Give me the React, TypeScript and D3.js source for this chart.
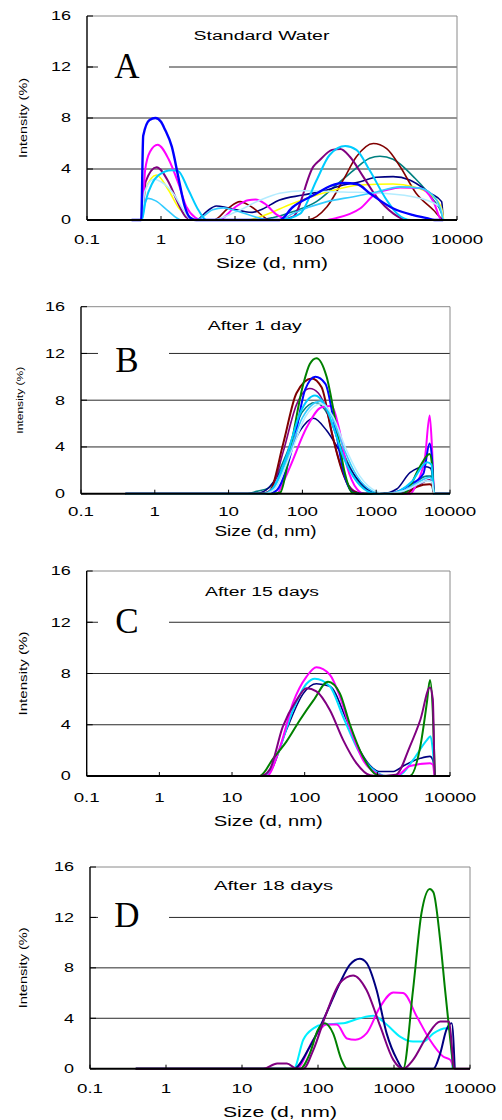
import * as d3 from 'd3'

type Pt = [number, number]

// size (nm) vs intensity (%)
const xTickValues = [0.1, 1, 10, 100, 1000, 10000]
const xTickLabels = ['0.1', '1', '10', '100', '1000', '10000']
const yTickValues = [0, 4, 8, 12, 16]
const yTickLabels = ['0', '4', '8', '12', '16']

// A - standard water
const aTeal: Pt[] = [[0.4, 0], [20, 0], [33, 0.2], [60, 0.65], [126, 1.44], [235, 2.75], [400, 3.9], [660, 4.84], [910, 5.0], [1370, 4.76], [2570, 3.4], [4800, 1.57], [6200, 0.5], [6500, 0]]
const aNavy: Pt[] = [[0.4, 0], [3, 0], [4.2, 0.7], [5.6, 1.1], [8, 0.95], [17, 0.6], [22, 0.78], [40, 1.57], [83, 1.96], [175, 2.35], [290, 2.75], [490, 3.0], [815, 3.35], [1370, 3.4], [2300, 3.14], [4350, 2.1], [6200, 1.44], [6500, 0]]
const aMaroon: Pt[] = [[0.4, 0], [5.2, 0], [8, 0.9], [11.7, 1.44], [17, 1.0], [30, 0], [94, 0], [175, 1.04], [290, 3.14], [437, 4.96], [740, 6.0], [1120, 5.6], [1700, 4.2], [2800, 2.1], [4800, 0.78], [6200, 0.1], [6500, 0]]
const aYellow: Pt[] = [[0.4, 0], [0.55, 0], [0.61, 2.35], [0.87, 3.53], [1.26, 2.35], [1.71, 1.0], [2.3, 0.26], [3, 0], [15, 0], [22, 0.26], [60, 1.3], [175, 2.2], [490, 2.75], [1370, 2.82], [2570, 2.6], [4800, 1.83], [6200, 0.9], [6600, 0]]
const aPurple: Pt[] = [[0.4, 0], [0.55, 0], [0.62, 3.0], [0.87, 4.13], [1.26, 3.0], [1.71, 1.3], [2.2, 0.2], [2.8, 0], [40, 0], [61, 0.26], [115, 4.2], [140, 4.7], [205, 5.5], [265, 5.57], [357, 4.96], [540, 3.4], [815, 1.83], [1370, 0.52], [2100, 0], [6500, 0]]
const aMagenta: Pt[] = [[0.4, 0], [0.55, 0], [0.61, 3.9], [0.71, 5.35], [0.9, 5.9], [1.26, 4.8], [1.71, 2.9], [2.2, 1.04], [2.9, 0.2], [3.5, 0], [6, 0], [10, 1.0], [15, 1.55], [19, 1.6], [25, 1.3], [37, 0.4], [60, 0], [165, 0], [235, 0.15], [490, 0.9], [815, 2.1], [1120, 2.35], [1700, 2.55], [3160, 2.5], [4800, 1.45], [6200, 0], [6500, 0]]
const aLightCyan: Pt[] = [[0.4, 0], [0.55, 0], [0.6, 2.2], [0.8, 3.2], [1.0, 3.0], [1.5, 2.0], [2.0, 0.8], [2.6, 0], [5, 0], [10, 0.6], [22, 1.57], [40, 2.1], [83, 2.3], [290, 2.2], [1000, 2.1], [3160, 1.7], [6000, 1.0], [6500, 0]]
const aCyanLow: Pt[] = [[0.4, 0], [0.55, 0], [0.6, 1.2], [0.67, 1.7], [0.85, 1.5], [1.2, 0.8], [1.9, 0], [3, 0], [5, 0.8], [7, 0.95], [10, 0.75], [20, 0.2], [30, 0], [40, 0], [60, 0.5], [175, 1.44], [400, 1.83], [815, 2.2], [1700, 2.6], [3160, 2.5], [5300, 1.57], [6200, 0.5], [6500, 0]]
const aCyan: Pt[] = [[0.4, 0], [0.55, 0], [0.62, 1.5], [0.75, 2.8], [0.92, 3.5], [1.4, 3.9], [1.7, 3.85], [2.35, 2.35], [3.2, 0.78], [4.1, 0], [40, 0], [76, 0.5], [126, 3.1], [190, 5.1], [309, 5.8], [437, 5.5], [660, 3.9], [1120, 1.57], [1540, 0.52], [2400, 0], [10000, 0]]
const aBlue: Pt[] = [[0.4, 0], [0.54, 0], [0.575, 6.6], [0.7, 7.85], [0.84, 8.0], [1.0, 7.7], [1.13, 7.1], [1.4, 5.75], [1.71, 3.4], [2.1, 1.04], [2.46, 0.2], [3, 0], [40, 0], [60, 1.0], [120, 2.0], [200, 2.7], [290, 2.9], [450, 2.8], [660, 2.1], [1380, 0.9], [2500, 0.4], [3900, 0.15], [5000, 0], [6500, 0]]

// B - after 1 day
const bTeal: Pt[] = [[0.4, 0], [18, 0], [24, 0.2], [35, 0.5], [60, 3.3], [100, 7.0], [150, 7.8], [220, 6.8], [330, 4.0], [550, 1.2], [900, 0.1], [1200, 0], [2500, 0.3], [4800, 1.5], [5600, 1.5], [6100, 0], [10000, 0]]
const bNavy: Pt[] = [[0.4, 0], [22, 0], [30, 0.2], [55, 2.3], [93, 5.4], [141, 6.45], [213, 5.4], [324, 3.6], [550, 1.3], [910, 0.1], [1200, 0], [1900, 0.4], [2870, 1.8], [4600, 2.3], [5400, 2.2], [5800, 1.5], [6100, 0], [10000, 0]]
const bPurple: Pt[] = [[0.4, 0], [28, 0], [38, 0.4], [55, 3.6], [83, 7.6], [126, 9.0], [165, 8.6], [213, 7.1], [290, 3.6], [400, 1.0], [560, 0.1], [700, 0], [2000, 0], [3500, 0.6], [5300, 1.2], [5700, 1.0], [6100, 0], [10000, 0]]
const bMaroon: Pt[] = [[0.4, 0], [28, 0], [36, 0.2], [55, 4.3], [83, 8.6], [133, 9.86], [182, 9.1], [250, 5.2], [357, 1.7], [485, 0.2], [700, 0], [2500, 0], [3550, 0.6], [5300, 0.8], [5700, 0.7], [6100, 0], [10000, 0]]
const bMagenta: Pt[] = [[0.4, 0], [45, 0], [55, 1.0], [68, 2.3], [115, 5.7], [182, 7.4], [250, 7.5], [310, 5.7], [400, 2.4], [550, 0.4], [700, 0], [2900, 0], [3500, 0.8], [4600, 3.2], [5300, 6.7], [5700, 4.0], [6100, 0], [10000, 0]]
const bBlue: Pt[] = [[0.4, 0], [35, 0], [45, 0.3], [60, 2.0], [80, 5.0], [109, 8.9], [150, 10.0], [205, 9.4], [276, 5.7], [378, 1.4], [485, 0.1], [600, 0], [1500, 0], [2870, 0.75], [4350, 1.7], [5300, 4.3], [5700, 3.0], [6100, 0], [10000, 0]]
const bGreen: Pt[] = [[0.4, 0], [40, 0], [50, 0.1], [68, 3.7], [103, 9.4], [126, 11.1], [155, 11.6], [213, 10.0], [290, 5.7], [378, 1.7], [470, 0.1], [600, 0], [2300, 0], [2600, 0.2], [3900, 2.3], [5300, 3.4], [5700, 2.5], [6100, 0], [10000, 0]]
const bSky: Pt[] = [[0.4, 0], [30, 0], [40, 0.4], [65, 3.3], [100, 6.5], [175, 7.9], [250, 6.6], [357, 4.0], [550, 1.5], [900, 0.2], [1200, 0], [2000, 0.1], [3500, 0.9], [5300, 1.4], [5700, 1.2], [6100, 0], [10000, 0]]
const bCyan: Pt[] = [[0.4, 0], [30, 0], [40, 0.5], [61, 3.2], [93, 6.9], [148, 8.4], [200, 7.6], [260, 5.8], [357, 3.2], [550, 1.0], [830, 0.1], [1000, 0], [1500, 0], [3000, 1.0], [4900, 2.7], [5600, 2.5], [6100, 0], [10000, 0]]
const bLightCyan: Pt[] = [[0.4, 0], [30, 0], [42, 0.4], [70, 3.5], [110, 6.6], [180, 7.7], [260, 6.6], [380, 4.0], [600, 1.5], [1000, 0.2], [1300, 0], [2500, 0.3], [5000, 1.1], [5700, 1.0], [6100, 0], [10000, 0]]

// C - after 15 days
const cNavy: Pt[] = [[0.4, 0], [25, 0], [33, 0.3], [56, 3.6], [96, 6.45], [145, 7.2], [222, 7.0], [378, 4.37], [575, 2.0], [870, 0.6], [1050, 0.35], [1660, 0.35], [2300, 0.8], [3900, 1.38], [5300, 1.53], [5800, 1.25], [6200, 0]]
const cCyan: Pt[] = [[0.4, 0], [28, 0], [41, 1.5], [69, 5.15], [106, 7.2], [138, 7.6], [222, 7.0], [339, 4.6], [575, 1.77], [970, 0.3], [1300, 0], [2050, 0.1], [3100, 1.25], [4800, 2.8], [5400, 3.1], [5800, 2.0], [6200, 0]]
const cMagenta: Pt[] = [[0.4, 0], [30, 0], [46, 2.3], [69, 5.7], [106, 7.75], [145, 8.48], [222, 7.9], [305, 6.2], [415, 3.85], [635, 1.25], [970, 0.2], [1200, 0], [1800, 0], [2800, 0.78], [5300, 1.0], [5800, 0.9], [6100, 0]]
const cGreen: Pt[] = [[0.4, 0], [24, 0], [37, 1.38], [56, 2.68], [86, 4.37], [132, 5.9], [210, 7.36], [305, 6.45], [415, 4.1], [635, 1.5], [970, 0.1], [1200, 0], [2800, 0], [3900, 2.3], [4800, 5.7], [5300, 7.5], [5800, 5.0], [6200, 0]]
const cPurple: Pt[] = [[0.4, 0], [25, 0], [33, 0.5], [50, 3.85], [77, 5.9], [106, 6.85], [145, 6.6], [222, 5.15], [339, 2.8], [515, 1.0], [795, 0.05], [1000, 0], [1800, 0.1], [2800, 2.3], [3900, 4.37], [5300, 6.9], [5800, 6.0], [6200, 0], [10000, 0]]

// D - after 18 days
const dCyan: Pt[] = [[0.4, 0], [48, 0], [64, 2.3], [87, 3.2], [117, 3.5], [215, 3.6], [355, 4.0], [535, 4.2], [800, 3.5], [1200, 2.55], [1780, 2.15], [2450, 2.15], [3300, 2.8], [4900, 3.2], [5400, 3.1], [5900, 0]]
const dMagenta: Pt[] = [[0.4, 0], [52, 0], [87, 2.3], [129, 3.5], [177, 3.5], [240, 2.4], [310, 2.3], [435, 2.8], [660, 4.93], [980, 6.04], [1320, 6.0], [2000, 4.13], [2960, 2.3], [4470, 0.95], [5500, 0.7], [6100, 0]]
const dNavy: Pt[] = [[0.4, 0], [48, 0], [78, 1.75], [129, 4.4], [194, 6.8], [263, 8.25], [355, 8.72], [435, 8.4], [590, 6.25], [800, 2.8], [1100, 0.7], [1320, 0], [3300, 0], [4050, 1.2], [4900, 3.1], [5750, 3.6], [6300, 0]]
const dGreen: Pt[] = [[0.4, 0], [58, 0], [78, 1.2], [100, 3.1], [123, 3.6], [158, 2.8], [204, 0.7], [240, 0], [1320, 0], [1780, 6.25], [2300, 12.35], [2960, 14.26], [3300, 14.0], [4050, 10.2], [4700, 6.25], [5500, 2.3], [6050, 0]]
const dPurple: Pt[] = [[0.4, 0], [19, 0], [29, 0.42], [39, 0.42], [52, 0], [64, 0], [87, 1.5], [129, 4.4], [194, 6.8], [290, 7.4], [435, 6.25], [660, 3.35], [980, 0.7], [1320, 0], [1780, 0.7], [2700, 2.55], [4050, 3.74], [5250, 3.74], [6300, 0], [10000, 0]]

const NAVY = '#000080', MAROON = '#800000', TEAL = '#008080', PURPLE = '#800080'
const MAGENTA = '#FF00FF', YELLOW = '#FFFF00', BLUE = '#0000FF', GREEN = '#008000'
const CYAN = '#00CCFF', SKY = '#33CCFF', LIGHTCYAN = '#B4ECFF'

type Series = { pts: Pt[]; color: string; w?: number }
type Panel = {
  letter: string; title: string
  l: number; r: number; t: number; b: number
  titleX: number; titleY: number; titleW: number
  letterY: number
  xTitleY: number; xTitleW: number; tickDy: number
  yTitleX: number; yTitleLen: number; yTitleFs: number
  series: Series[]
}

const panels: Panel[] = [
  {
    letter: 'A', title: 'Standard Water', l: 87, r: 457, t: 16, b: 220,
    titleX: 261.5, titleY: 39.5, titleW: 136, letterY: 78,
    xTitleY: 267.5, xTitleW: 112, tickDy: 24, yTitleX: 23, yTitleLen: 80, yTitleFs: 11,
    series: [
      { pts: aTeal, color: TEAL }, { pts: aNavy, color: NAVY }, { pts: aMaroon, color: MAROON },
      { pts: aYellow, color: YELLOW }, { pts: aPurple, color: PURPLE, w: 2 }, { pts: aMagenta, color: MAGENTA, w: 2 },
      { pts: aLightCyan, color: LIGHTCYAN }, { pts: aCyanLow, color: SKY }, { pts: aCyan, color: CYAN, w: 2 },
      { pts: aBlue, color: BLUE, w: 2.4 },
    ],
  },
  {
    letter: 'B', title: 'After 1 day', l: 81, r: 450, t: 306.7, b: 493.7,
    titleX: 254.7, titleY: 330, titleW: 94, letterY: 371.7,
    xTitleY: 536, xTitleW: 102, tickDy: 22.5, yTitleX: 20, yTitleLen: 67, yTitleFs: 9.5,
    series: [
      { pts: bTeal, color: TEAL }, { pts: bNavy, color: NAVY }, { pts: bPurple, color: PURPLE },
      { pts: bMaroon, color: MAROON, w: 2 }, { pts: bMagenta, color: MAGENTA, w: 2 }, { pts: bBlue, color: BLUE, w: 2 },
      { pts: bGreen, color: GREEN, w: 2 }, { pts: bSky, color: SKY }, { pts: bCyan, color: CYAN, w: 2 },
      { pts: bLightCyan, color: LIGHTCYAN },
    ],
  },
  {
    letter: 'C', title: 'After 15 days', l: 86.7, r: 450, t: 571, b: 776,
    titleX: 262, titleY: 595.7, titleW: 114, letterY: 633,
    xTitleY: 825.5, xTitleW: 109, tickDy: 25.5, yTitleX: 23, yTitleLen: 84, yTitleFs: 11,
    series: [
      { pts: cNavy, color: NAVY }, { pts: cCyan, color: '#00E0FF', w: 2 }, { pts: cMagenta, color: MAGENTA, w: 2 },
      { pts: cGreen, color: GREEN, w: 2 }, { pts: cPurple, color: PURPLE, w: 2 },
    ],
  },
  {
    letter: 'D', title: 'After 18 days', l: 90, r: 470, t: 867, b: 1068.7,
    titleX: 273.5, titleY: 890, titleW: 119, letterY: 927,
    xTitleY: 1116.5, xTitleW: 114, tickDy: 24.5, yTitleX: 23, yTitleLen: 81, yTitleFs: 11,
    series: [
      { pts: dCyan, color: '#00F0FF', w: 2 }, { pts: dMagenta, color: MAGENTA, w: 2 }, { pts: dNavy, color: NAVY, w: 2 },
      { pts: dGreen, color: GREEN, w: 2 }, { pts: dPurple, color: PURPLE, w: 2 },
    ],
  },
]

const SANS = 'Liberation Sans, Arial, sans-serif'

function DlsPanel({ p }: { p: Panel }) {
  const x = d3.scaleLog().domain([0.1, 10000]).range([p.l, p.r])
  const y = d3.scaleLinear().domain([0, 16]).range([p.b, p.t])
  const line = d3.line<Pt>()
    .x(d => x(d[0]))
    .y(d => y(d[1]))
    .curve(d3.curveMonotoneX)
  const midY = (p.t + p.b) / 2
  return (
    <g>
      {/* grid lines */}
      {[4, 8, 12].map(v => (
        <line key={v} x1={p.l} x2={p.r} y1={y(v)} y2={y(v)} stroke='#2a2a2a' strokeWidth={1} />
      ))}
      {/* frame */}
      <line x1={p.l} x2={p.r} y1={p.t} y2={p.t} stroke='#8a8a8a' strokeWidth={1} />
      <line x1={p.r} x2={p.r} y1={p.t} y2={p.b} stroke='#8a8a8a' strokeWidth={1} />
      {/* letter with white box over the grid */}
      <rect x={98} y={p.letterY - 30} width={71} height={38} fill='white' />
      <text x={127} y={p.letterY} textAnchor='middle' fontFamily='Liberation Serif, Times New Roman, serif' fontSize={35}>{p.letter}</text>
      <text x={p.titleX} y={p.titleY} textAnchor='middle' fontFamily={SANS} fontSize={12}
        textLength={p.titleW} lengthAdjust='spacingAndGlyphs'>{p.title}</text>
      {/* curves */}
      {p.series.map((s, i) => (
        <path key={i} d={line(s.pts) ?? ''} fill='none' stroke={s.color} strokeWidth={s.w ?? 1.6} strokeLinejoin='round' />
      ))}
      <line x1={p.l} x2={p.l} y1={p.t} y2={p.b} stroke='#000' strokeWidth={1.4} />
      <line x1={p.l} x2={p.r} y1={p.b} y2={p.b} stroke='#000' strokeWidth={2} />
      {/* y ticks */}
      {yTickValues.map((v, i) => (
        <g key={v}>
          <line x1={p.l} x2={p.l + 6} y1={y(v)} y2={y(v)} stroke='#000' strokeWidth={1} />
          <text transform={`translate(${p.l - 16},${y(v)}) scale(1.5,1)`} dy='0.36em' textAnchor='end'
            fontFamily={SANS} fontSize={12}>{yTickLabels[i]}</text>
        </g>
      ))}
      {/* x ticks */}
      {xTickValues.map((v, i) => (
        <g key={v}>
          <line x1={x(v)} x2={x(v)} y1={p.b} y2={p.b - 4} stroke='#000' strokeWidth={1} />
          <text transform={`translate(${x(v)},${p.b + p.tickDy}) scale(1.5,1)`} textAnchor='middle'
            fontFamily={SANS} fontSize={12.5}>{xTickLabels[i]}</text>
        </g>
      ))}
      <text x={(p.l + p.r) / 2} y={p.xTitleY} textAnchor='middle' fontFamily={SANS} fontSize={14}
        textLength={p.xTitleW} lengthAdjust='spacingAndGlyphs'>Size (d, nm)</text>
      <text transform={`translate(${p.yTitleX},${midY}) rotate(-90)`} textAnchor='middle' dy='0.35em'
        fontFamily={SANS} fontSize={p.yTitleFs} textLength={p.yTitleLen} lengthAdjust='spacingAndGlyphs'>Intensity (%)</text>
    </g>
  )
}

export default function App() {
  return (
    <svg width={502} height={1120} style={{ position: 'absolute', left: 0, top: 0, background: 'white' }}>
      <rect width={502} height={1120} fill='white' />
      {panels.map(p => <DlsPanel key={p.letter} p={p} />)}
    </svg>
  )
}
